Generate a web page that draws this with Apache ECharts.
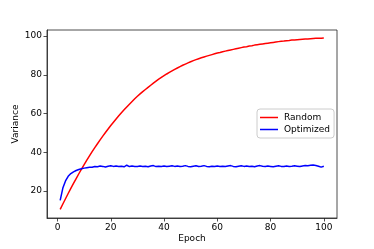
<!DOCTYPE html>
<html>
<head>
<meta charset="utf-8">
<script src="https://cdn.jsdelivr.net/npm/echarts@6/dist/echarts.min.js"></script>
<style>html,body{margin:0;padding:0;background:#fff;}#c{width:374px;height:249px;}</style>
</head>
<body>
<div id="c"></div>
<script>
const epochs = Array.from({length: 100}, (_, i) => i + 1);
const randomVals = [
10.5,13.3,16.0,18.7,21.3,23.9,26.4,28.9,31.3,33.6,
35.9,38.1,40.3,42.4,44.4,46.4,48.3,50.2,52.0,53.8,
55.5,57.2,58.8,60.4,61.9,63.4,64.8,66.2,67.6,68.9,
70.1,71.3,72.4,73.5,74.6,75.7,76.7,77.7,78.6,79.5,
80.4,81.2,82.0,82.8,83.5,84.2,84.9,85.5,86.1,86.7,
87.3,87.8,88.3,88.8,89.2,89.6,90.0,90.4,90.8,91.2,
91.5,91.9,92.2,92.5,92.8,93.1,93.4,93.7,94.0,94.3,
94.5,94.8,95.0,95.3,95.5,95.7,95.9,96.1,96.3,96.5,
96.7,96.9,97.1,97.3,97.4,97.6,97.7,97.9,98.0,98.1,
98.2,98.3,98.4,98.5,98.6,98.7,98.8,98.9,98.9,99.0];
const optimizedVals = [
15.2,21.5,25.2,27.6,29.0,29.9,30.6,31.1,31.5,31.8,
32.0,32.2,32.3,32.6,32.5,32.9,32.7,32.4,32.8,33.0,
32.7,32.9,32.6,32.8,32.5,33.3,32.6,32.9,32.7,32.6,
32.9,32.7,32.8,32.5,32.9,33.1,32.6,32.8,32.7,32.9,
32.6,32.8,33.0,32.7,32.9,32.6,32.8,33.1,32.7,32.5,
32.8,33.0,32.6,32.8,33.1,32.7,32.5,32.8,32.6,32.9,
32.7,32.8,32.6,32.9,33.1,32.7,32.5,32.8,33.0,32.7,
32.9,32.6,32.8,32.5,32.9,33.1,32.8,32.6,32.9,32.7,
32.5,32.8,33.0,32.7,32.6,32.9,32.7,32.8,33.0,32.8,
32.6,32.9,33.1,33.0,33.3,33.4,33.2,32.8,32.3,32.8];
const xTicks = [0, 20, 40, 60, 80, 100];
const yTicks = [20, 40, 60, 80, 100];
const seriesNames = ['Random', 'Optimized'];

const font = 'DejaVu Sans';
const chart = echarts.init(document.getElementById('c'), null, {renderer: 'canvas'});
chart.setOption({
  animation: false,
  backgroundColor: '#fff',
  grid: {left: 47, right: 37, top: 30, bottom: 31, show: true, borderColor: '#222', borderWidth: 0.8, backgroundColor: 'transparent'},
  xAxis: {
    type: 'value', min: -3.95, max: 104.95,
    name: 'Epoch', nameLocation: 'middle', nameGap: 16, nameMoveOverlap: false,
    nameTextStyle: {fontFamily: font, fontSize: 9, color: '#000', verticalAlign: 'top'},
    axisLine: {show: true, onZero: false, lineStyle: {color: '#222', width: 0.8}},
    axisTick: {show: true, length: 3.5, customValues: xTicks, lineStyle: {color: '#222', width: 0.8}},
    axisLabel: {customValues: xTicks, fontFamily: font, fontSize: 9, color: '#000', margin: 5},
    splitLine: {show: false}
  },
  yAxis: {
    type: 'value', min: 6.06, max: 103.1,
    name: 'Variance', nameLocation: 'middle', nameGap: 31, nameRotate: 90, nameMoveOverlap: false,
    nameTextStyle: {fontFamily: font, fontSize: 9, color: '#000', verticalAlign: 'middle'},
    axisLine: {show: true, onZero: false, lineStyle: {color: '#222', width: 0.8}},
    axisTick: {show: true, length: 3.5, customValues: yTicks, lineStyle: {color: '#222', width: 0.8}},
    axisLabel: {customValues: yTicks, fontFamily: font, fontSize: 9, color: '#000', margin: 5},
    splitLine: {show: false}
  },
  legend: {
    orient: 'vertical', left: 257, top: 109,
    data: seriesNames,
    icon: 'rect', itemWidth: 18, itemHeight: 1.5, itemGap: 3,
    backgroundColor: '#fff', borderColor: '#ccc', borderWidth: 1, borderRadius: 3,
    padding: [4, 4, 4, 3],
    textStyle: {fontFamily: font, fontSize: 9, color: '#000', padding: [0, 0, 0, 1]}
  },
  series: [
    {name: seriesNames[0], type: 'line', symbol: 'none', data: epochs.map((e, i) => [e, randomVals[i]]),
     lineStyle: {color: '#ff0000', width: 1.5}, itemStyle: {color: '#ff0000'}},
    {name: seriesNames[1], type: 'line', symbol: 'none', data: epochs.map((e, i) => [e, optimizedVals[i]]),
     lineStyle: {color: '#0000ff', width: 1.5}, itemStyle: {color: '#0000ff'}}
  ]
});
</script>
</body>
</html>
